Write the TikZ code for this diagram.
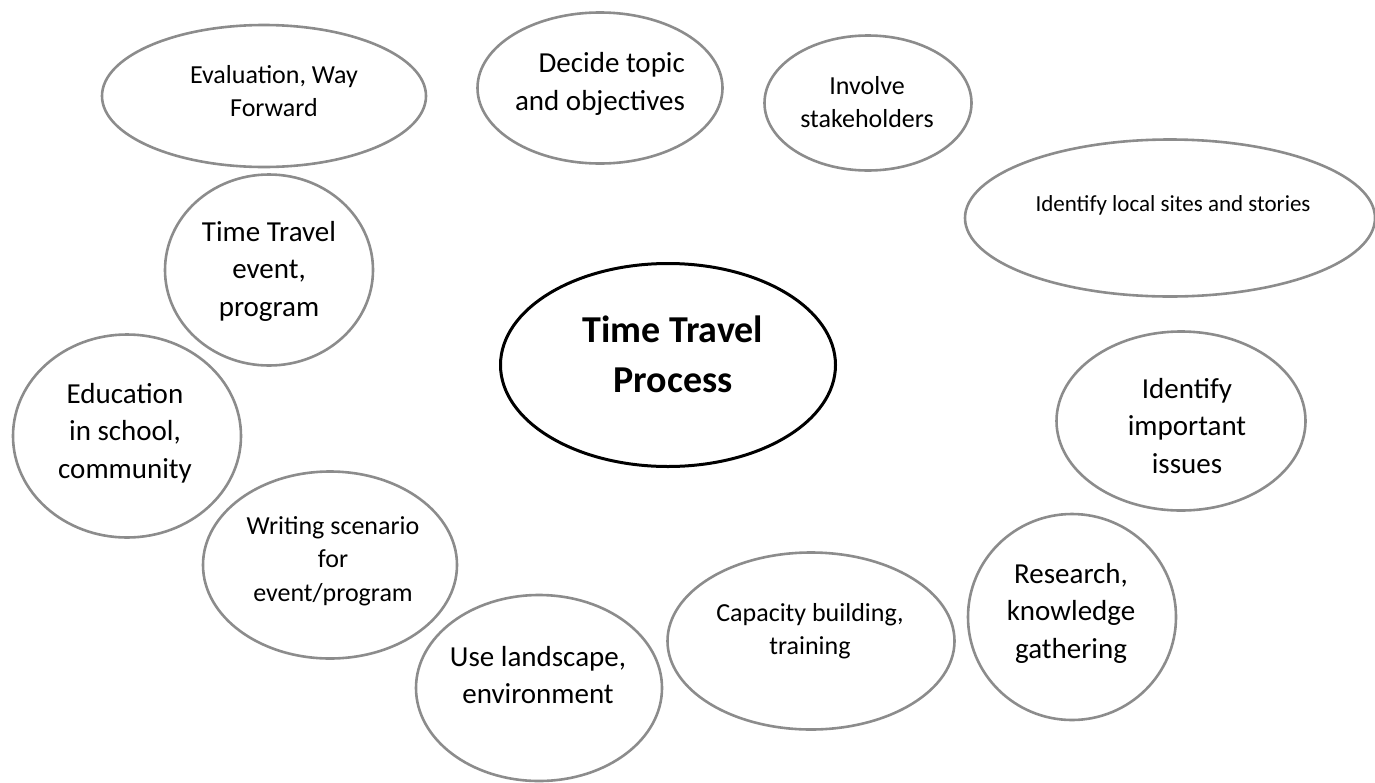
\documentclass[tikz,border=0pt]{standalone}
\usepackage{fontspec}
\setmainfont{Carlito}
\usetikzlibrary{shapes.geometric}
\begin{document}
\begin{tikzpicture}[x=1pt,y=-1pt,
  bubble/.style={ellipse, draw=black!45, line width=2.6pt, inner sep=0pt, minimum width=#1},
  hub/.style={ellipse, draw=black, line width=3pt, inner sep=0pt},
  lbl/.style={align=center, inner sep=0pt, text=black},
  big/.style={font=\fontsize{29}{37.5}\selectfont},
  mid/.style={font=\fontsize{26}{33.5}\selectfont},
  small/.style={font=\fontsize{23}{30}\selectfont}]
\useasboundingbox (0,0) rectangle (1375,782);

% outline bubbles
\node[bubble=324pt, minimum height=142pt] (eval) at (264,96) {};
\node[bubble=245pt, minimum height=151pt] (decide) at (600,88) {};
\node[bubble=207pt, minimum height=135pt] (involve) at (868,103) {};
\node[bubble=410pt, minimum height=157pt] (sites) at (1170,218) {};
\node[bubble=208pt, minimum height=191pt] (event) at (269,270) {};
\node[hub, minimum width=335pt, minimum height=203pt] (hubE) at (668,365) {};
\node[bubble=249pt, minimum height=179pt] (issues) at (1181,421) {};
\node[bubble=228pt, minimum height=203pt] (edu) at (127,436) {};
\node[bubble=254pt, minimum height=187pt] (write) at (330,565) {};
\node[bubble=208pt, minimum height=206pt] (research) at (1072,617) {};
\node[bubble=287pt, minimum height=177pt] (capacity) at (811,641) {};
\node[bubble=246pt, minimum height=186pt] (land) at (539,688) {};

% labels
\node[lbl, mid] (tEval) at (274,91) {Evaluation, Way\\Forward};
\node[lbl, big, align=right] (tDecide) at (600,84) {Decide topic\\and objectives};
\node[lbl, mid] (tInvolve) at (867,102) {Involve\\stakeholders};
\node[lbl, small] (tSites) at (1173,205) {Identify local sites and stories};
\node[lbl, big] (tEvent) at (269,271) {Time Travel\\event,\\program};
\node[lbl, font=\fontsize{38}{50}\selectfont\bfseries] (tHub) at (673,354) {Time Travel\\Process};
\node[lbl, big] (tIssues) at (1187,426) {Identify\\important\\issues};
\node[lbl, big] (tEdu) at (125,433) {Education\\in school,\\community};
\node[lbl, mid] (tWrite) at (333,561) {Writing scenario\\for\\event/program};
\node[lbl, big] (tResearch) at (1071,613) {Research,\\knowledge\\gathering};
\node[lbl, mid] (tCapacity) at (810,631) {Capacity building,\\training};
\node[lbl, big] (tLand) at (538,675) {Use landscape,\\environment};
\end{tikzpicture}
\end{document}
